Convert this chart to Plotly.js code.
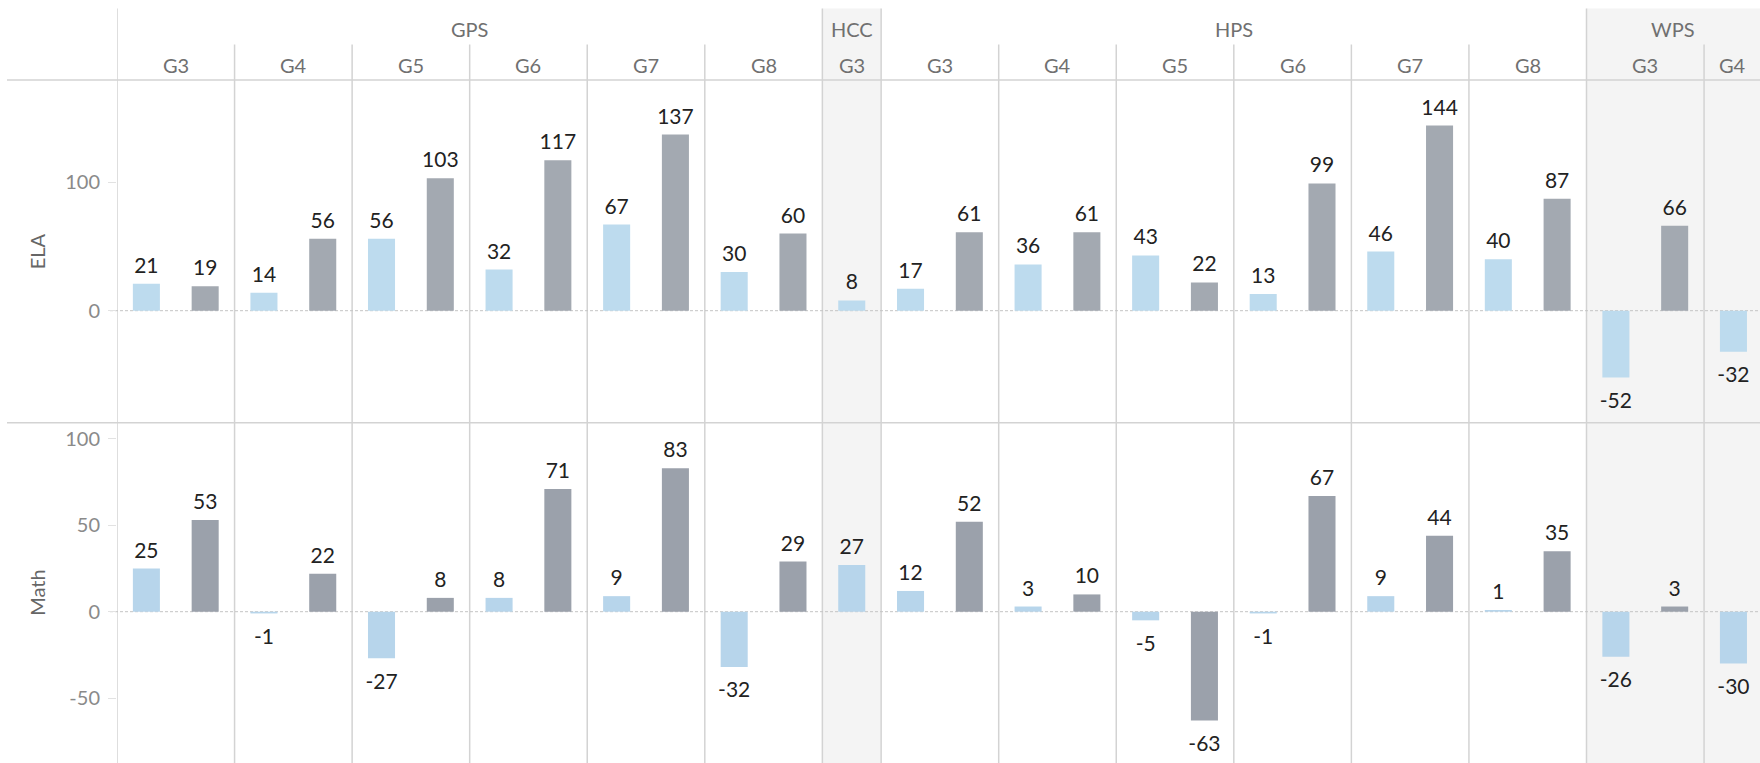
<!DOCTYPE html>
<html><head><meta charset="utf-8">
<script src="https://cdn.plot.ly/plotly-3.0.1.min.js"></script>
<style>html,body{margin:0;padding:0;background:#fff;} #chart{width:1760px;height:763px;}</style>
</head><body><div id="chart"></div>
<script>
// ---- data ----
const districts = ['GPS','GPS','GPS','GPS','GPS','GPS','HCC','HPS','HPS','HPS','HPS','HPS','HPS','WPS','WPS'];
const grades    = ['G3','G4','G5','G6','G7','G8','G3','G3','G4','G5','G6','G7','G8','G3','G4'];
const barsPerColumn = [2,2,2,2,2,2,1,2,2,2,2,2,2,2,2];
const elaFirst   = [21,14,56,32,67,30,8,17,36,43,13,46,40,-52,-32];
const elaSecond  = [19,56,103,117,137,60,null,61,61,22,99,144,87,66,null];
const mathFirst  = [25,-1,-27,8,9,-32,27,12,3,-5,-1,9,1,-26,-30];
const mathSecond = [53,22,8,71,83,29,null,52,10,-63,67,44,35,3,null];
const panelNames = ['ELA','Math'];
const elaTicks  = [0,100];
const mathTicks = [-50,0,50,100];

// ---- geometry / style ----
const W = 1760, H = 763, L = 117, T = 80;
const PH = H - T;
const slotPx = 58.78;
const xMax = -0.5 + (W - L) / slotPx;
const splitPaper = 1 - (422.7 - T) / PH;
const FONT = 'Lato, "Open Sans", sans-serif';
const colors = {
  elaFirst: '#bddbee', elaSecond: '#a3a9b1',
  mathFirst: '#b7d5eb', mathSecond: '#9ba1ab'
};
const py = Y => 1 + (T - Y) / PH;
const px = X => (X - L) / (W - L);

// build slot categories
const slotCats = [], firstX = [], secondX = [], secondIdx = [], colStart = [], colEnd = [];
districts.forEach((d, i) => {
  colStart.push(slotCats.length);
  const a = d + ' ' + grades[i] + ' a';
  slotCats.push(a); firstX.push(a);
  if (barsPerColumn[i] === 2) {
    const b = d + ' ' + grades[i] + ' b';
    slotCats.push(b); secondX.push(b); secondIdx.push(i);
  }
  colEnd.push(slotCats.length - 1);
});

function barTrace(x, y, color, yaxis) {
  return {
    type: 'bar', x: x, y: y, yaxis: yaxis, xaxis: 'x',
    marker: {color: color, line: {width: 0}},
    hoverinfo: 'skip', showlegend: false
  };
}
function labelTrace(x, y, yaxis) {
  return {
    type: 'scatter', mode: 'markers+text', x: x, y: y, yaxis: yaxis, xaxis: 'x',
    text: y.map(v => v === null ? '' : String(v)),
    textposition: y.map(v => (v !== null && v < 0) ? 'bottom center' : 'top center'),
    marker: {size: y.map(v => (v !== null && v < 0) ? 21.9 : 7.5), opacity: 0, color: '#000'},
    textfont: {family: FONT, size: 21, color: '#222222'},
    cliponaxis: false, hoverinfo: 'skip', showlegend: false
  };
}
const elaSec = secondIdx.map(i => elaSecond[i]);
const mathSec = secondIdx.map(i => mathSecond[i]);
const data = [
  barTrace(firstX, elaFirst, colors.elaFirst, 'y'),
  barTrace(secondX, elaSec, colors.elaSecond, 'y'),
  barTrace(firstX, mathFirst, colors.mathFirst, 'y2'),
  barTrace(secondX, mathSec, colors.mathSecond, 'y2'),
  labelTrace(firstX, elaFirst, 'y'),
  labelTrace(secondX, elaSec, 'y'),
  labelTrace(firstX, mathFirst, 'y2'),
  labelTrace(secondX, mathSec, 'y2')
];

// groups of districts
const groups = [];
districts.forEach((d, i) => {
  const g = groups[groups.length - 1];
  if (g && g.name === d) { g.end = colEnd[i]; }
  else groups.push({name: d, start: colStart[i], end: colEnd[i], firstCol: i});
});

const lineColor = '#d3d3d3';
const shapes = [];
groups.forEach((g, k) => {
  if (k % 2 === 1) {
    shapes.push({type: 'rect', layer: 'below', xref: 'x', yref: 'paper',
      x0: g.start - 0.5, x1: Math.min(g.end + 0.5, xMax + 1), y0: 0, y1: py(8.5),
      fillcolor: '#f4f4f4', line: {width: 0}});
  }
});
districts.forEach((d, i) => {
  const isGroupStart = groups.some(g => g.firstCol === i);
  shapes.push({type: 'line', layer: 'below', xref: 'x', yref: 'paper',
    x0: colStart[i] - 0.5, x1: colStart[i] - 0.5, y0: 0, y1: isGroupStart ? py(8.5) : py(44.5),
    line: {color: lineColor, width: 1.5}});
});
[1, splitPaper].forEach(yv => shapes.push({type: 'line', layer: 'below', xref: 'paper', yref: 'paper',
  x0: px(7), x1: 1, y0: yv, y1: yv, line: {color: lineColor, width: 1.5}}));
['y', 'y2'].forEach(ya => shapes.push({type: 'line', layer: 'below', xref: 'paper', yref: ya,
  x0: px(110), x1: 1, y0: 0, y1: 0, line: {color: '#c4c4c4', width: 1, dash: '3px,2px'}}));

const annotations = [];
const headerFont = {family: FONT, size: 20, color: '#707070'};
groups.forEach(g => {
  const x0 = g.start - 0.5, x1 = Math.min(g.end + 0.5, xMax);
  annotations.push({xref: 'x', yref: 'paper', x: (x0 + x1) / 2, y: py(28.5), text: g.name,
    showarrow: false, font: headerFont, xanchor: 'center', yanchor: 'middle'});
});
grades.forEach((gr, i) => {
  const x0 = colStart[i] - 0.5, x1 = Math.min(colEnd[i] + 0.5, xMax);
  annotations.push({xref: 'x', yref: 'paper', x: (x0 + x1) / 2, y: py(65), text: gr,
    showarrow: false, font: headerFont, xanchor: 'center', yanchor: 'middle'});
});
[[panelNames[0], (splitPaper + 1) / 2], [panelNames[1], splitPaper / 2]].forEach(([t, yv]) => {
  annotations.push({xref: 'paper', yref: 'paper', x: px(37), y: yv, text: t, textangle: -90,
    showarrow: false, font: {family: FONT, size: 20, color: '#666666'}, xanchor: 'center', yanchor: 'middle'});
});

const yCommon = {
  showgrid: false, zeroline: false, showline: false,
  ticks: 'outside', ticklen: 8, tickcolor: '#e2e2e2', tickwidth: 1,
  ticklabelstandoff: 4,
  tickfont: {family: FONT, size: 20, color: '#8a8a8a'},
  fixedrange: true, anchor: 'x'
};
const layout = {
  width: W, height: H,
  margin: {l: L, r: 0, t: T, b: 0, pad: 0},
  paper_bgcolor: '#ffffff', plot_bgcolor: 'rgba(0,0,0,0)',
  barmode: 'overlay', bargap: 0.54,
  font: {family: FONT},
  xaxis: {type: 'category', categoryorder: 'array', categoryarray: slotCats,
    range: [-0.5, xMax], showticklabels: false, showgrid: false, zeroline: false,
    ticks: '', showline: false, fixedrange: true, anchor: 'y2'},
  yaxis: Object.assign({}, yCommon, {domain: [splitPaper, 1], range: [-(422.7 - 310.7) / 1.286, (310.7 - T) / 1.286],
    tickvals: elaTicks, ticktext: elaTicks.map(String)}),
  yaxis2: Object.assign({}, yCommon, {domain: [0, splitPaper], range: [-(H - 611.7) / 1.728, (611.7 - 422.7) / 1.728],
    tickvals: mathTicks, ticktext: mathTicks.map(String)}),
  shapes: shapes, annotations: annotations
};
Plotly.newPlot('chart', data, layout, {displayModeBar: false, staticPlot: true});
</script>
</body></html>
